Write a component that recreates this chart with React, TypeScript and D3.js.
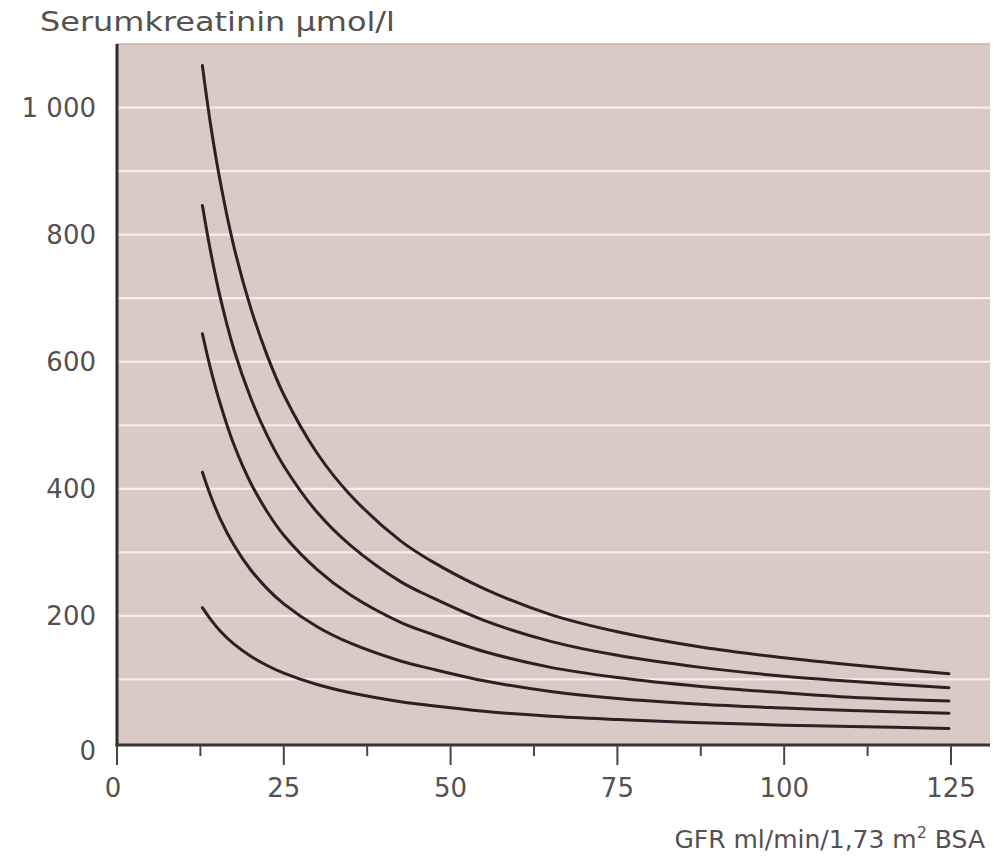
import React from "react";
import * as d3 from "d3";

const gfr = [12.8, 14, 15.5, 17.5, 20, 22.5, 25, 30, 35, 42.5, 47, 55, 65, 75, 87.5, 100, 110, 124.7];
const curve1 = [1066, 975, 882, 782, 686, 610, 548, 456, 390, 318, 287, 243, 202, 175, 151, 134, 123, 109];
const curve2 = [846, 775, 700, 620, 544, 484, 436, 363, 311, 254, 230, 193, 160, 138, 119, 105, 97, 87];
const curve3 = [644, 590, 533, 470, 410, 364, 327, 273, 233, 190, 172, 144, 119, 103, 89, 79, 72, 66];
const curve4 = [426, 390, 352, 312, 273, 243, 219, 183, 157, 129, 117, 98, 81, 70, 61, 55, 51, 47];
const curve5 = [213, 195, 176, 156, 137, 122, 110, 92, 79, 65, 59, 50, 42, 37, 32, 28, 26, 23];
const series = [curve1, curve2, curve3, curve4, curve5];

const xMajorTicks = [0, 25, 50, 75, 100, 125];
const xMinorTicks = [12.5, 37.5, 62.5, 87.5, 112.5];
const yTickValues = [0, 200, 400, 600, 800, 1000];
const yTickLabels = ["0", "200", "400", "600", "800", "1 000"];
const gridValues = [100, 200, 300, 400, 500, 600, 700, 800, 900, 1000];

const yTitle = "Serumkreatinin µmol/l";

export default function App() {
  const W = 994;
  const H = 858;
  const left = 117;
  const right = 990;
  const x = d3.scaleLinear().domain([0, 125]).range([117, 951]);
  const y = d3.scaleLinear().domain([0, 1100]).range([743, 44]);
  const top = y(1100);
  const bottom = 745;

  const line = d3
    .line<number>()
    .x((_, i) => x(gfr[i]))
    .y((d) => y(d))
    .curve(d3.curveCatmullRom.alpha(0.5));

  const font = "'DejaVu Sans', 'Open Sans', sans-serif";
  const textColor = "#565050";

  return (
    <svg width={W} height={H} style={{ position: "absolute", left: 0, top: 0, background: "#fff" }}>
      <rect x={left} y={top} width={right - left} height={bottom - top} fill="#dac9c4" />
      {gridValues.map((v) => (
        <line key={v} x1={left} x2={right} y1={y(v)} y2={y(v)} stroke="#f6eeea" strokeWidth={2.2} />
      ))}
      <line x1={left} x2={right} y1={top} y2={top} stroke="#c4b2ac" strokeWidth={1.5} />
      {series.map((s, i) => (
        <path key={i} d={line(s) || ""} fill="none" stroke="#2b2124" strokeWidth={3} strokeLinecap="round" />
      ))}
      <line x1={left} x2={left} y1={top} y2={bottom + 1.5} stroke="#2f2a2c" strokeWidth={3} />
      <line x1={left - 1.5} x2={right} y1={bottom} y2={bottom} stroke="#3a3234" strokeWidth={3} />
      {xMajorTicks.map((t) => (
        <line key={t} x1={x(t)} x2={x(t)} y1={bottom} y2={bottom + 20} stroke="#4a4446" strokeWidth={2} />
      ))}
      {xMinorTicks.map((t) => (
        <line key={t} x1={x(t)} x2={x(t)} y1={bottom} y2={bottom + 11} stroke="#4a4446" strokeWidth={2} />
      ))}
      {xMajorTicks.map((t) => (
        <text key={t} x={x(t) - (t === 0 ? 4 : 0)} y={797} textAnchor="middle" fontFamily={font} fontSize={26} fill={textColor}>
          {t}
        </text>
      ))}
      {yTickValues.map((v, i) => (
        <text
          key={v}
          x={96}
          y={y(v) + (v === 0 ? 8 : 0)}
          dy="0.36em"
          textAnchor="end"
          fontFamily={font}
          fontSize={26}
          fill={textColor}
        >
          {yTickLabels[i]}
        </text>
      ))}
      <text x={40} y={31} fontFamily={font} fontSize={26} fill={textColor} textLength={355} lengthAdjust="spacingAndGlyphs">
        {yTitle}
      </text>
      <text x={985} y={848} textAnchor="end" fontFamily={font} fontSize={25} fill={textColor}>
        GFR ml/min/1,73 m<tspan dy={-10} fontSize={16}>2</tspan>
        <tspan dy={10}> BSA</tspan>
      </text>
    </svg>
  );
}
